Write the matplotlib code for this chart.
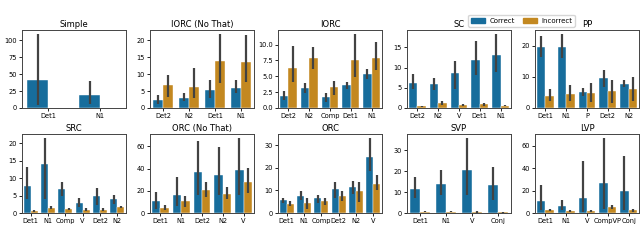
import matplotlib
matplotlib.use("Agg")
import matplotlib.pyplot as plt
from matplotlib.patches import Patch
import seaborn as sns

# per-panel data: categories, correct / incorrect means and CI bounds
titles = ["Simple", "IORC (No That)", "IORC", "SC", "PP",
          "SRC", "ORC (No That)", "ORC", "SVP", "LVP"]

cats = [
    ["Det1", "N1"],
    ["Det2", "N2", "Det1", "N1"],
    ["Det2", "N2", "Comp", "Det1", "N1"],
    ["Det2", "N2", "V", "Det1", "N1"],
    ["Det1", "N1", "P", "Det2", "N2"],
    ["Det1", "N1", "Comp", "V", "Det2", "N2"],
    ["Det1", "N1", "Det2", "N2", "V"],
    ["Det1", "N1", "Comp", "Det2", "N2", "V"],
    ["Det1", "N1", "V", "Conj"],
    ["Det1", "N1", "V", "CompVP", "Conj"],
]

correct = [
    [41, 19],
    [2.4, 2.9, 5.2, 5.9],
    [1.9, 3.1, 1.7, 3.6, 5.3],
    [6.3, 5.9, 8.7, 11.9, 13.2],
    [19.5, 19.5, 5.2, 9.7, 7.6],
    [7.6, 13.9, 7.0, 3.0, 4.8, 4.0],
    [10.5, 16.2, 36.9, 33.9, 38.4],
    [5.6, 7.4, 6.4, 10.5, 11.5, 24.8],
    [11.6, 14.0, 20.7, 13.2],
    [10.6, 5.9, 13.6, 26.6, 19.5],
]
correct_lo = [
    [5, 6],
    [1.3, 2.0, 2.9, 4.4],
    [1.3, 2.4, 1.0, 3.0, 4.6],
    [4.6, 4.5, 4.6, 8.1, 8.9],
    [16.3, 16.1, 4.0, 6.6, 6.8],
    [4.1, 4.1, 5.0, 1.7, 2.2, 2.7],
    [3.9, 6.0, 15.9, 15.9, 15.9],
    [4.4, 5.6, 4.4, 6.8, 8.6, 18.5],
    [7.3, 8.5, 8.5, 6.1],
    [2.4, 2.4, 0.9, 3.8, 2.4],
]
correct_hi = [
    [110, 40],
    [3.9, 4.4, 8.3, 8.3],
    [2.7, 4.0, 2.3, 4.1, 6.2],
    [8.5, 7.5, 11.6, 16.5, 18.4],
    [23.2, 23.9, 6.3, 12.3, 8.9],
    [13.1, 21.5, 9.0, 4.3, 7.2, 5.1],
    [18.9, 32.4, 64.8, 59.4, 67.8],
    [6.8, 9.6, 7.8, 13.7, 14.0, 33.2],
    [17.2, 20.4, 36.0, 22.0],
    [24.6, 11.8, 46.2, 66.9, 50.3],
]

incorrect = [
    [None, None],
    [6.8, 6.1, 13.9, 13.7],
    [6.3, 7.8, 3.3, 7.6, 7.9],
    [0.4, 1.2, 0.7, 0.9, 0.6],
    [4.0, 4.4, 4.7, 5.6, 6.0],
    [0.6, 1.5, 1.1, 1.0, 1.0, 1.7],
    [4.8, 10.8, 20.4, 17.4, 27.9],
    [4.1, 4.3, 5.2, 7.4, 9.6, 13.0],
    [0.6, 0.6, 0.5, 0.3],
    [2.4, 1.5, 1.8, 5.3, 2.4],
]
incorrect_lo = [
    [None, None],
    [3.4, 2.9, 7.5, 7.8],
    [4.1, 6.1, 2.1, 4.9, 6.0],
    [0.2, 0.7, 0.5, 0.6, 0.4],
    [2.1, 2.1, 1.8, 1.6, 2.1],
    [0.3, 1.1, 0.8, 0.7, 0.7, 1.4],
    [3.0, 5.4, 14.4, 12.9, 18.0],
    [3.0, 1.9, 3.7, 5.3, 4.9, 10.0],
    [0.3, 0.3, 0.2, 0.1],
    [1.5, 0.9, 1.0, 3.3, 0.9],
]
incorrect_hi = [
    [None, None],
    [9.8, 11.7, 22.0, 21.7],
    [9.7, 9.6, 4.2, 11.7, 10.4],
    [0.6, 1.8, 1.0, 1.3, 0.8],
    [6.0, 7.4, 7.9, 8.9, 10.0],
    [0.9, 2.0, 1.5, 1.5, 1.3, 2.1],
    [7.5, 15.0, 27.9, 23.4, 40.8],
    [5.2, 6.8, 6.4, 9.7, 13.7, 16.7],
    [1.0, 1.1, 1.0, 0.6],
    [3.6, 2.4, 2.7, 7.4, 3.8],
]

pal = sns.color_palette("colorblind")
c_blue = sns.desaturate(pal[0], 0.75)
c_orange = sns.desaturate(pal[1], 0.75)
err_col = ".26"

W, H = 640, 241
fig = plt.figure(figsize=(W / 100, H / 100), dpi=100)

lefts = [22, 150, 278, 407, 535]
rows = [(30, 108), (134, 213)]
aw = 104

for i, title in enumerate(titles):
    r, c = divmod(i, 5)
    top, bot = rows[r]
    ax = fig.add_axes([lefts[c] / W, (H - bot) / H, aw / W, (bot - top) / H])
    n = len(cats[i])
    ymax = 0
    for j in range(n):
        for k, (vals, lo, hi, col) in enumerate([
                (correct, correct_lo, correct_hi, c_blue),
                (incorrect, incorrect_lo, incorrect_hi, c_orange)]):
            v = vals[i][j]
            if v is None:
                continue
            x = j - 0.2 + 0.4 * k
            ax.bar(x, v, width=0.4, color=col, edgecolor="white", linewidth=0.3)
            ax.plot([x, x], [lo[i][j], hi[i][j]], color=err_col, lw=1.6,
                    solid_capstyle="butt")
            ymax = max(ymax, hi[i][j])
    ax.set_xlim(-0.5, n - 0.5)
    ax.set_ylim(0, ymax * 1.05)
    ax.set_xticks(range(n))
    ax.set_xticklabels(cats[i])
    ax.tick_params(labelsize=4.8, length=2, width=0.6, pad=1.5)
    ax.set_title(title, fontsize=6, pad=2.5)
    for s in ax.spines.values():
        s.set_linewidth(0.7)
        s.set_color("#444444")

handles = [Patch(color=c_blue, label="Correct"),
           Patch(color=c_orange, label="Incorrect")]
fig.legend(handles=handles, loc="lower left", ncol=2,
           bbox_to_anchor=(465 / W, (H - 30) / H), fontsize=5,
           frameon=True, handlelength=2.0, handleheight=0.8,
           borderpad=0.4, columnspacing=1.2, handletextpad=0.6,
           fancybox=True, framealpha=0.8)

fig.savefig("out.png", dpi=100)
